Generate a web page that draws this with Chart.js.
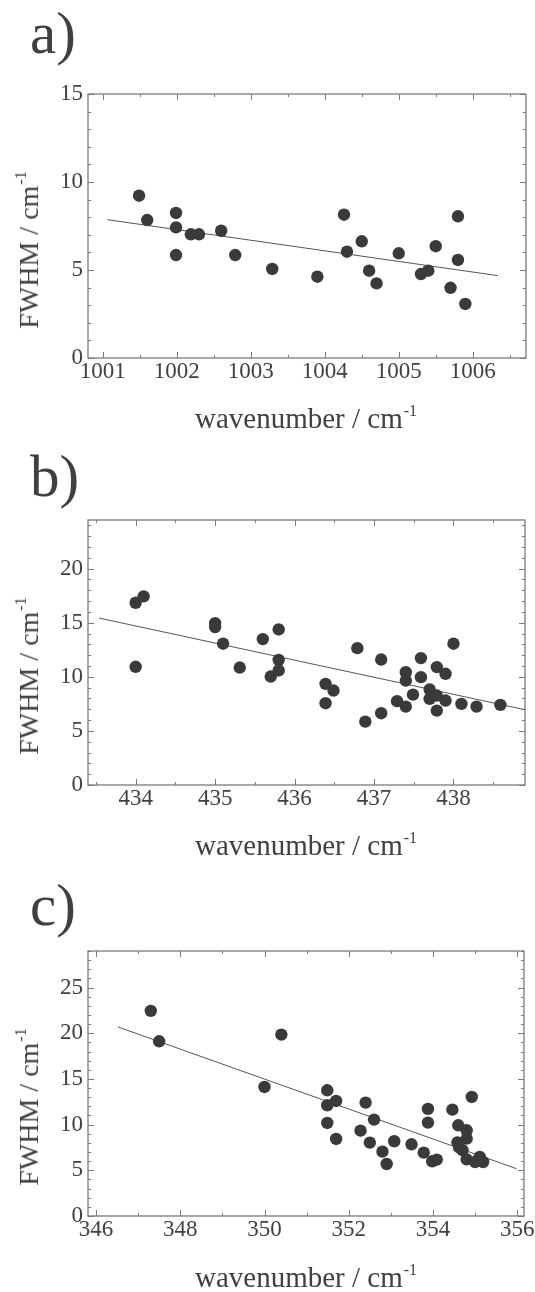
<!DOCTYPE html>
<html>
<head>
<meta charset="utf-8">
<title>FWHM vs wavenumber</title>
<script src="https://cdn.jsdelivr.net/npm/chart.js@4.4.1/dist/chart.umd.min.js"></script>
<style>
  html, body { margin: 0; padding: 0; background: #fff; }
  body {
    width: 535px; height: 1292px; position: relative; overflow: hidden;
    font-family: "Liberation Serif", "Times New Roman", serif; color: #404040;
  }
  canvas { position: absolute; left: 0; }
  .lbl { position: absolute; font-size: 59px; line-height: 1; }
  .xt { position: absolute; font-size: 29px; line-height: 1; white-space: nowrap; transform: translateX(-50%); }
  .yt { position: absolute; font-size: 28px; line-height: 1; white-space: nowrap; transform: translate(-50%, -50%) rotate(-90deg); }
  sup { font-size: 16px; vertical-align: 0; position: relative; top: -12px; margin-left: 1px; }
</style>
</head>
<body>

<div class="lbl" style="left:30px; top:4px">a)</div>
<canvas id="chartA" width="535" height="430" style="top:0"></canvas>
<div class="xt" style="left:306px; top:404px">wavenumber / cm<sup>-1</sup></div>
<div class="yt" style="left:29px; top:250px">FWHM / cm<sup>-1</sup></div>

<div class="lbl" style="left:30px; top:447px">b)</div>
<canvas id="chartB" width="535" height="430" style="top:430px"></canvas>
<div class="xt" style="left:306px; top:831px">wavenumber / cm<sup>-1</sup></div>
<div class="yt" style="left:29px; top:676px">FWHM / cm<sup>-1</sup></div>

<div class="lbl" style="left:30px; top:876px">c)</div>
<canvas id="chartC" width="535" height="432" style="top:860px"></canvas>
<div class="xt" style="left:306px; top:1263px">wavenumber / cm<sup>-1</sup></div>
<div class="yt" style="left:29px; top:1107px">FWHM / cm<sup>-1</sup></div>

<script>
// a) ~1003 cm-1 band
const aWavenumber = [1001.49, 1001.60, 1001.99, 1001.99, 1001.99, 1002.19, 1002.30, 1002.60, 1002.79, 1003.29,
                     1003.90, 1004.26, 1004.30, 1004.50, 1004.60, 1004.70, 1005.00, 1005.30, 1005.40, 1005.50,
                     1005.70, 1005.80, 1005.80, 1005.90];
const aFwhm = [9.22, 7.84, 8.24, 7.42, 5.85, 7.03, 7.03, 7.23, 5.85, 5.06,
               4.62, 8.14, 6.04, 6.63, 4.96, 4.24, 5.95, 4.77, 4.96, 6.35,
               3.99, 8.05, 5.57, 3.07];
const aFitX = [1001.06, 1006.34];
const aFitY = [7.86, 4.68];
const aXTicks = [1001, 1002, 1003, 1004, 1005, 1006];
const aYTicks = [0, 5, 10, 15];

// b) ~436 cm-1 band
const bWavenumber = [434.00, 434.10, 434.00, 435.00, 435.00, 435.10, 435.31, 435.60, 435.80, 435.80,
                     435.80, 435.70, 436.39, 436.49, 436.39, 436.79, 436.89, 437.09, 437.09, 437.29,
                     437.40, 437.40, 437.40, 437.49, 437.59, 437.59, 437.70, 437.70, 437.79, 437.79,
                     437.79, 437.90, 437.90, 438.00, 438.10, 438.29, 438.59];
const bFwhm = [16.85, 17.44, 10.93, 14.97, 14.60, 13.06, 10.86, 13.49, 14.38, 11.57,
               10.59, 10.03, 9.35, 8.73, 7.56, 12.65, 5.86, 11.60, 6.64, 7.75,
               10.43, 9.66, 7.25, 8.36, 11.73, 9.97, 8.83, 7.96, 10.90, 8.27,
               6.88, 10.28, 7.81, 13.06, 7.50, 7.25, 7.41];
const bFitX = [433.54, 438.95];
const bFitY = [15.43, 6.88];
const bXTicks = [434, 435, 436, 437, 438];
const bYTicks = [0, 5, 10, 15, 20];

// c) ~352 cm-1 band
const cWavenumber = [347.30, 347.50, 350.00, 350.40, 351.49, 351.49, 351.49, 351.70, 351.70, 352.28,
                     352.40, 352.50, 352.60, 352.80, 352.90, 353.08, 353.49, 353.78, 353.88, 353.88,
                     353.98, 354.09, 354.46, 354.60, 354.58, 354.62, 354.70, 354.80, 354.80, 354.80,
                     354.92, 355.00, 355.11, 355.19];
const cFwhm = [22.45, 19.12, 14.12, 19.85, 13.76, 12.12, 10.18, 12.59, 8.43, 9.34,
               12.41, 8.03, 10.55, 7.04, 5.69, 8.18, 7.85, 6.93, 11.72, 10.22,
               5.99, 6.17, 11.64, 9.93, 8.05, 7.50, 7.20, 9.38, 8.47, 6.20,
               13.03, 5.91, 6.46, 5.91];
const cFitX = [346.52, 355.98];
const cFitY = [20.69, 5.18];
const cXTicks = [346, 348, 350, 352, 354, 356];
const cYTicks = [0, 5, 10, 15, 20, 25];

const FONT = '"Liberation Serif", "Times New Roman", serif';
const INK = '#404040';

function tickList(min, max, step) {
    const out = [];
    for (let i = Math.ceil(min / step - 1e-9); i * step <= max + 1e-9; i++) {
        out.push({ value: +(i * step).toFixed(6) });
    }
    return out;
}

function isMajor(v, majors) {
    return majors.some(m => Math.abs(m - v) < 1e-6);
}

// frame with inward ticks on all four sides
const frameTicks = {
    id: 'frameTicks',
    beforeDatasetsDraw(chart) {
        const { ctx, chartArea: a, scales: { x, y } } = chart;
        ctx.save();
        ctx.strokeStyle = '#7a7a7a';
        ctx.lineWidth = 1.3;
        ctx.strokeRect(a.left, a.top, a.right - a.left, a.bottom - a.top);
        ctx.lineWidth = 1;
        ctx.beginPath();
        x.ticks.forEach(t => {
            const px = Math.round(x.getPixelForValue(t.value)) + 0.5;
            const len = t.label ? 6 : 3;
            ctx.moveTo(px, a.bottom); ctx.lineTo(px, a.bottom - len);
            ctx.moveTo(px, a.top); ctx.lineTo(px, a.top + len);
        });
        y.ticks.forEach(t => {
            const py = Math.round(y.getPixelForValue(t.value)) + 0.5;
            const len = t.label ? 6 : 3;
            ctx.moveTo(a.left, py); ctx.lineTo(a.left + len, py);
            ctx.moveTo(a.right, py); ctx.lineTo(a.right - len, py);
        });
        ctx.stroke();
        ctx.restore();
    }
};

function makeChart(id, xs, ys, fitX, fitY, xTicks, yTicks, geo) {
    const points = xs.map((x, i) => ({ x: x, y: ys[i] }));
    const fit = fitX.map((x, i) => ({ x: x, y: fitY[i] }));
    const tickFont = { family: FONT, size: 23, lineHeight: 1 };

    return new Chart(document.getElementById(id), {
        type: 'scatter',
        data: {
            datasets: [{
                data: points,
                backgroundColor: '#3a3a3a',
                pointBorderWidth: 0,
                pointRadius: 6.2,
                showLine: false
            }, {
                data: fit,
                showLine: true,
                borderColor: '#555',
                borderWidth: 1,
                pointRadius: 0,
                fill: false
            }]
        },
        options: {
            responsive: false,
            animation: false,
            events: [],
            layout: { padding: { top: geo.top, right: geo.right, bottom: geo.bottom, left: 0 } },
            plugins: { legend: { display: false }, tooltip: { enabled: false } },
            scales: {
                x: {
                    type: 'linear',
                    min: geo.xMin, max: geo.xMax,
                    grid: { display: false, drawTicks: false },
                    border: { display: false },
                    afterBuildTicks: s => { s.ticks = tickList(s.min, s.max, geo.xMinor); },
                    afterFit: s => { s.height = 40; s.paddingLeft = 0; s.paddingRight = 0; },
                    ticks: {
                        autoSkip: false, maxRotation: 0, minRotation: 0,
                        padding: 2, color: INK, font: tickFont,
                        callback: v => isMajor(v, xTicks) ? String(v) : ''
                    }
                },
                y: {
                    type: 'linear',
                    min: geo.yMin, max: geo.yMax,
                    grid: { display: false, drawTicks: false },
                    border: { display: false },
                    afterBuildTicks: s => { s.ticks = tickList(s.min, s.max, geo.yMinor); },
                    afterFit: s => { s.width = 88; s.paddingTop = 0; s.paddingBottom = 0; },
                    ticks: {
                        autoSkip: false,
                        padding: 5, color: INK, font: tickFont,
                        callback: v => isMajor(v, yTicks) ? String(v) : ''
                    }
                }
            }
        },
        plugins: [frameTicks]
    });
}

makeChart('chartA', aWavenumber, aFwhm, aFitX, aFitY, aXTicks, aYTicks,
    { top: 94, right: 9, bottom: 32, xMin: 1000.80, xMax: 1006.72, xMinor: 0.5, yMin: 0, yMax: 15, yMinor: 1 });
makeChart('chartB', bWavenumber, bFwhm, bFitX, bFitY, bXTicks, bYTicks,
    { top: 90, right: 10, bottom: 35, xMin: 433.40, xMax: 438.90, xMinor: 0.5, yMin: 0, yMax: 24.5, yMinor: 1 });
makeChart('chartC', cWavenumber, cFwhm, cFitX, cFitY, cXTicks, cYTicks,
    { top: 91, right: 11, bottom: 36, xMin: 345.81, xMax: 356.16, xMinor: 1, yMin: 0, yMax: 29, yMinor: 1 });
</script>
</body>
</html>
